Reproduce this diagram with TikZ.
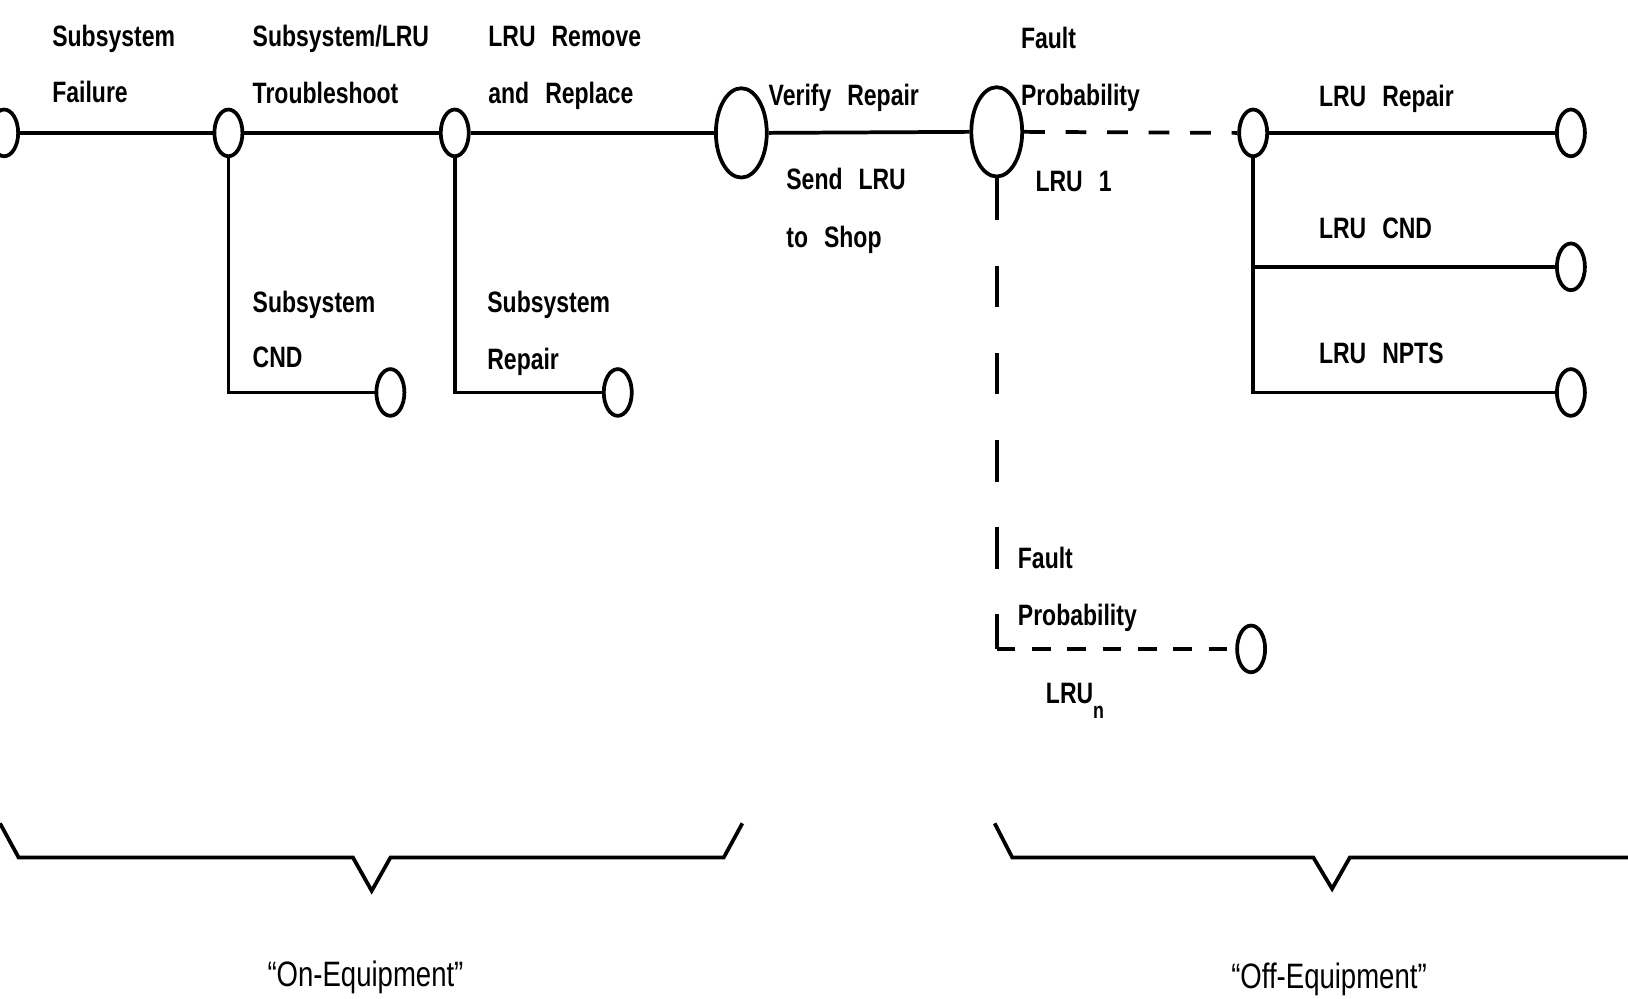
\documentclass[tikz,border=0pt]{standalone}
\usepackage{fontspec}
\setmainfont{Liberation Sans}[FakeStretch=0.78, WordSpace=2.5]
\newfontfamily\eqfont{Liberation Sans}[FakeStretch=0.78]
\usetikzlibrary{shapes.geometric}
\tikzset{
  x=0.5pt, y=-0.5pt,
  line/.style={line width=1.8pt},
  sm/.style={draw, line width=1.8pt, ellipse, inner sep=0pt, minimum width=13.5pt, minimum height=22.5pt},
  bg/.style={draw, line width=1.8pt, ellipse, inner sep=0pt, minimum width=24.5pt, minimum height=43pt},
  lbl/.style={anchor=base west, inner sep=0pt, font=\bfseries\fontsize{14.2}{18}\selectfont},
  eq/.style={anchor=base, inner sep=0pt, font=\eqfont\fontsize{17}{20}\selectfont},
}
\begin{document}
\begin{tikzpicture}
\useasboundingbox (0,0) rectangle (1568,962);
% states
\node[sm] (c0) at (4,128) {};
\node[sm] (c1) at (220,128) {};
\node[sm] (c2) at (438,128) {};
\node[bg] (c3) at (714,128) {};
\node[bg] (c4) at (960,127) {};
\node[sm] (c5) at (1207,128) {};
\node[sm] (c6) at (1513,128) {};
\node[sm] (c7) at (1513,257) {};
\node[sm] (c8) at (1513,378) {};
\node[sm] (c9) at (376,378) {};
\node[sm] (c10) at (595,378) {};
\node[sm] (c11) at (1205,625) {};
% connectors
\draw[line] (c0.east) -- (c1.west);
\draw[line] (c1.east) -- (c2.west);
\draw[line] (c2.east) -- (c3.west);
\draw[line] (c3.east) -- (c4.west);
\draw[line, dash pattern=on 10pt off 10pt] (c4.east) -- (c5.west);
\draw[line] (c5.east) -- (c6.west);
\draw[line] (c1.south) |- (c9.west);
\draw[line] (c2.south) |- (c10.west);
\draw[line] (c5.south) |- (c8.west);
\draw[line] (c5 |- c7) -- (c7.west);
\coordinate (k) at (c4.south |- c11);
\draw[line, dash pattern=on 20pt off 22pt] (c4.south) -- (k);
\draw[line, dash pattern=on 9pt off 8pt] (k) -- (c11.west);
% labels
\node[lbl] (l1a) at (50,45) {Subsystem};
\node[lbl] (l1b) at (50,99) {Failure};
\node[lbl] (l2a) at (243,45) {Subsystem/LRU};
\node[lbl] (l2b) at (243,100) {Troubleshoot};
\node[lbl] (l3a) at (470,45) {LRU Remove};
\node[lbl] (l3b) at (470,100) {and Replace};
\node[lbl] (l4) at (740,102) {Verify Repair};
\node[lbl] (l5a) at (757,183) {Send LRU};
\node[lbl] (l5b) at (757,238) {to Shop};
\node[lbl] (l6a) at (983,47) {Fault};
\node[lbl] (l6b) at (983,102) {Probability};
\node[lbl] (l7) at (997,184) {LRU 1};
\node[lbl] (l8) at (1270,103) {LRU Repair};
\node[lbl] (l9) at (1270,230) {LRU CND};
\node[lbl] (l10) at (1270,350) {LRU NPTS};
\node[lbl] (l11a) at (243,301) {Subsystem};
\node[lbl] (l11b) at (243,354) {CND};
\node[lbl] (l12a) at (469,301) {Subsystem};
\node[lbl] (l12b) at (469,356) {Repair};
\node[lbl] (l13a) at (980,548) {Fault};
\node[lbl] (l13b) at (980,602) {Probability};
\node[lbl] (l14) at (1007,678) {LRU\raisebox{-7pt}{\fontsize{11}{11}\selectfont n}};
% braces
\draw[line, line join=miter] (0,793) -- (18,826) -- (340,826) -- (358,858) -- (376,826) -- (697,826) -- (715,793);
\draw[line, line join=miter] (958,793) -- (975,826) -- (1265,826) -- (1283,856) -- (1300,826) -- (1568,826);
\node[eq] (on) at (352,950) {“On-Equipment”};
\node[eq] (off) at (1280,952) {“Off-Equipment”};
\end{tikzpicture}
\end{document}
